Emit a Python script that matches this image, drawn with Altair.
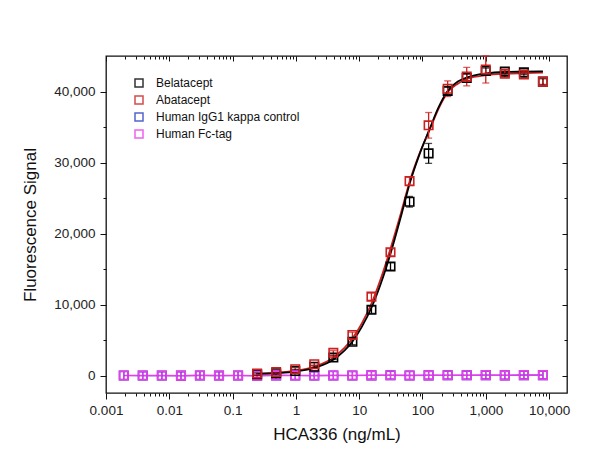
import altair as alt
import pandas as pd

# ---------------- data ----------------
series_names = ["Belatacept", "Abatacept", "Human IgG1 kappa control", "Human Fc-tag"]
series_colors = ["#000000", "#cc1f1f", "#2a3fbf", "#ec3cec"]

conc_treat = [0.244, 0.488, 0.977, 1.953, 3.906, 7.8125, 15.625, 31.25,
              62.5, 125, 250, 500, 1000, 2000, 4000, 8000]
bela_signal = [250, 380, 700, 1300, 2600, 4800, 9300, 15400,
               24500, 31300, 40100, 41900, 42900, 42800, 42700, 41400]
bela_err = [150, 150, 200, 200, 300, 400, 500, 500,
            750, 1400, 500, 600, 400, 300, 300, 400]
aba_signal = [340, 560, 950, 1650, 3250, 5750, 11150, 17400,
              27400, 35250, 40400, 42100, 43100, 42500, 42400, 41400]
aba_err = [150, 150, 200, 200, 300, 400, 500, 500,
           600, 1800, 1100, 1300, 1900, 500, 400, 500]

conc_ctrl = [0.00191, 0.00381, 0.00763, 0.0153, 0.0305, 0.061, 0.122, 0.244,
             0.488, 0.977, 1.953, 3.906, 7.8125, 15.625, 31.25, 62.5, 125,
             250, 500, 1000, 2000, 4000, 8000]
igg_signal = [60, 50, 50, 40, 70, 50, 60, 40, 80, 60, 50, 70, 60, 80, 90,
              70, 80, 100, 90, 110, 80, 120, 110]
fc_signal = [60, 50, 50, 40, 70, 50, 60, 40, 80, 60, 50, 70, 60, 80, 90,
             70, 80, 100, 90, 110, 80, 120, 110]
ctrl_err = [550] * 23

fit_conc = [0.244, 0.5, 1, 2, 4, 8, 11, 16, 22, 32, 45, 64, 90, 128, 180,
            256, 362, 512, 1024, 2048, 4096, 8000]
bela_fit = [300, 400, 620, 1150, 2350, 4950, 6900, 9800, 13000, 17500,
            22200, 27300, 31200, 34600, 37800, 40200, 41400, 42000, 42550,
            42750, 42800, 42850]
aba_fit = [340, 460, 730, 1330, 2650, 5400, 7400, 10400, 13700, 18200,
           22700, 27600, 31300, 34500, 37600, 40000, 41100, 41800, 42300,
           42500, 42600, 42650]

x_major = [0.001, 0.01, 0.1, 1, 10, 100, 1000, 10000]
x_minor = [round(m * 10 ** k, 6) for k in range(-3, 4) for m in range(2, 10)]
y_major = [0, 10000, 20000, 30000, 40000]
y_minor = [5000, 15000, 25000, 35000]

# ---------------- tables ----------------
rows = []
for name, conc, sig, err in [
    (series_names[2], conc_ctrl, igg_signal, ctrl_err),
    (series_names[3], conc_ctrl, fc_signal, ctrl_err),
    (series_names[0], conc_treat, bela_signal, bela_err),
    (series_names[1], conc_treat, aba_signal, aba_err),
]:
    for c, s, e in zip(conc, sig, err):
        rows.append({"series": name, "conc": c, "signal": s,
                     "lo": s - e, "hi": s + e})
pts = pd.DataFrame(rows)
igg_tbl = pts[pts["series"] == series_names[2]]
fc_tbl = pts[pts["series"] == series_names[3]]

fit_rows = []
for name, vals in [(series_names[1], aba_fit), (series_names[0], bela_fit)]:
    for c, v in zip(fit_conc, vals):
        fit_rows.append({"series": name, "conc": c, "signal": v})
fit = pd.DataFrame(fit_rows)

# ---------------- scales ----------------
FONT = "Liberation Sans"
xscale = alt.Scale(type="log", domain=[0.001, 19200], nice=False)
yscale = alt.Scale(domain=[-2400, 45000], nice=False, zero=False)
cscale = alt.Scale(domain=series_names, range=series_colors)
# same mapping, listed in another order so these guide-less scales
# are not merged with the colour legend
sscale = alt.Scale(domain=series_names[::-1], range=series_colors[::-1])

lab_expr = "datum.value >= 1 ? format(datum.value, ',') : format(datum.value, '~g')"

ax_bottom = alt.Axis(orient="bottom", values=x_major, labelExpr=lab_expr,
                     tickSize=6, domain=False, grid=False, labelFont=FONT,
                     labelFontSize=13.5, labelColor="#222", labelPadding=4,
                     title="HCA336 (ng/mL)", titleFont=FONT, titleFontSize=17,
                     titleFontWeight="normal", titleColor="#111",
                     titlePadding=10, tickColor="#111", labelFlush=False)
ax_bottom_minor = alt.Axis(orient="bottom", values=x_minor, labels=False,
                           tickSize=3, domain=False, grid=False, title=None,
                           tickColor="#111")
ax_top = alt.Axis(orient="top", values=x_major, labels=False, tickSize=5,
                  offset=-5, domain=False, grid=False, title=None,
                  tickColor="#111")
ax_top_minor = alt.Axis(orient="top", values=x_minor, labels=False,
                        tickSize=3, offset=-3, domain=False, grid=False,
                        title=None, tickColor="#111")

ax_left = alt.Axis(orient="left", values=y_major, format=",d", tickSize=6,
                   domain=False, grid=False, labelFont=FONT,
                   labelFontSize=13.5, labelColor="#222", labelPadding=5,
                   title="Fluorescence Signal", titleFont=FONT,
                   titleFontSize=17, titleFontWeight="normal",
                   titleColor="#111", titlePadding=14, tickColor="#111")
ax_left_minor = alt.Axis(orient="left", values=y_minor, labels=False,
                         tickSize=3, domain=False, grid=False, title=None,
                         tickColor="#111")
ax_right = alt.Axis(orient="right", values=y_major, labels=False, tickSize=5,
                    offset=-5, domain=False, grid=False, title=None,
                    tickColor="#111")
ax_right_minor = alt.Axis(orient="right", values=y_minor, labels=False,
                          tickSize=3, offset=-3, domain=False, grid=False,
                          title=None, tickColor="#111")

# ---------------- layers ----------------
igg_line = alt.Chart(igg_tbl).mark_line(strokeWidth=1.2).encode(
    x=alt.X("conc:Q", scale=xscale, axis=ax_bottom_minor),
    y=alt.Y("signal:Q", scale=yscale, axis=ax_left_minor),
    stroke=alt.Stroke("series:N", scale=sscale, legend=None),
)
fc_line = alt.Chart(fc_tbl).mark_line(strokeWidth=1.5).encode(
    x=alt.X("conc:Q", scale=xscale, axis=None),
    y=alt.Y("signal:Q", scale=yscale, axis=None),
    stroke=alt.Stroke("series:N", scale=sscale, legend=None),
)

fit_lines = alt.Chart(fit).mark_line(strokeWidth=1.8, interpolate="monotone").encode(
    x=alt.X("conc:Q", scale=xscale, axis=ax_top),
    y=alt.Y("signal:Q", scale=yscale, axis=ax_right),
    stroke=alt.Stroke("series:N", scale=sscale, legend=None),
    detail="series:N",
)

err_rules = alt.Chart(pts).mark_rule(strokeWidth=1.3).encode(
    x=alt.X("conc:Q", scale=xscale, axis=ax_top_minor),
    y=alt.Y("lo:Q", scale=yscale, axis=ax_right_minor),
    y2="hi:Q",
    stroke=alt.Stroke("series:N", scale=sscale, legend=None),
)

cap_hi = alt.Chart(pts).mark_tick(orient="horizontal", size=7, thickness=1.3).encode(
    x=alt.X("conc:Q", scale=xscale, axis=None),
    y=alt.Y("hi:Q", scale=yscale, axis=None),
    fill=alt.Fill("series:N", scale=sscale, legend=None),
)
cap_lo = alt.Chart(pts).mark_tick(orient="horizontal", size=7, thickness=1.3).encode(
    x=alt.X("conc:Q", scale=xscale, axis=None),
    y=alt.Y("lo:Q", scale=yscale, axis=None),
    fill=alt.Fill("series:N", scale=sscale, legend=None),
)

points = alt.Chart(pts).mark_point(shape="square", filled=False, size=72,
                                   strokeWidth=1.6, opacity=1).encode(
    x=alt.X("conc:Q", scale=xscale, axis=ax_bottom),
    y=alt.Y("signal:Q", scale=yscale, axis=ax_left),
    color=alt.Color("series:N", scale=cscale, sort=series_names,
                    legend=alt.Legend(orient="none", legendX=27, legendY=21,
                                      title=None, symbolType="square",
                                      symbolSize=64, symbolStrokeWidth=1.5,
                                      symbolOpacity=0.8,
                                      labelFont=FONT, labelFontSize=12,
                                      labelColor="#111", labelOffset=11,
                                      rowPadding=3, padding=0,
                                      labelLimit=300)),
)

chart = alt.layer(
    igg_line, fc_line, fit_lines, err_rules, cap_hi, cap_lo, points
).resolve_axis(
    x="independent", y="independent"
).properties(
    width=461, height=337,
    autosize=alt.AutoSizeParams(type="none"),
    padding={"left": 106, "top": 56, "right": 33, "bottom": 66},
    background="white",
).configure_view(
    stroke="#111", strokeWidth=1.3
)

chart.save("out.html", embed_options={"renderer": "svg", "actions": False})
